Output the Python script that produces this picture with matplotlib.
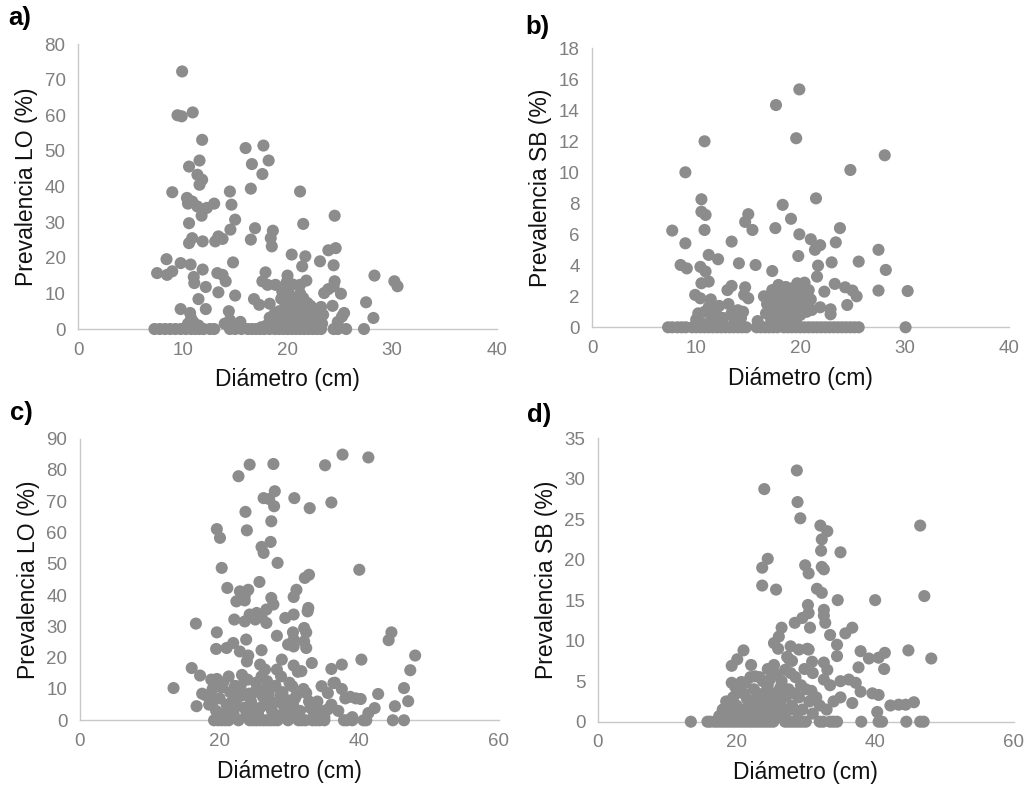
import matplotlib
matplotlib.use("Agg")
import matplotlib.pyplot as plt

plt.rcParams["font.family"] = ["Liberation Sans", "DejaVu Sans"]

# ---- panel a: Prevalencia LO vs diametro (serie 1) ----
a_x = [9.94, 9.5, 9.9, 10.95, 11.85, 16.0, 17.7, 18.2, 11.6, 10.6, 16.6, 17.6,
       11.4, 11.85, 11.6, 16.5, 9.0, 14.5, 21.2, 10.4, 10.9, 10.5, 11.4, 11.85,
       12.3, 11.8, 13.0, 14.65, 24.5, 21.5, 10.6, 15.0, 14.55, 16.9, 18.6, 18.4,
       18.5, 16.5, 10.6, 10.9, 11.9, 13.1, 13.4, 13.8, 24.6, 23.9, 20.4, 21.7,
       21.4, 24.4, 23.1, 8.45, 9.8, 10.75, 14.8, 7.55, 8.5, 9.0, 11.9, 11.05,
       11.1, 13.3, 13.8, 14.1, 12.2, 17.9, 20.0, 28.3, 17.6, 18.1, 18.85, 21.8,
       21.2, 24.5, 24.4, 30.2, 30.5, 20.0, 13.4, 25.1, 23.5, 23.9, 15.0, 11.5,
       16.8, 17.3, 18.3, 21.5, 27.5, 24.3, 9.8, 12.2, 14.4, 25.4, 28.2, 10.7,
       19.0, 19.5, 20.0, 20.3, 20.6, 21.0, 21.3, 21.8, 22.2, 22.6, 23.0, 23.3,
       19.8, 20.8, 21.5, 22.0, 18.5, 18.0, 17.5, 14.0, 14.5, 15.0, 15.5, 10.5,
       11.0, 11.5, 10.8, 24.8, 25.2, 20.1, 19.9, 20.5,
       19.2, 19.7, 20.2, 20.7, 21.1, 21.6, 22.1, 22.5, 22.9, 23.4, 18.8, 18.3,
       19.4, 20.9, 22.3, 23.2, 21.9, 19.5, 20.4, 21.2,
       7.3, 7.8, 8.3, 8.8, 9.3, 9.8, 10.3, 10.8, 11.2, 11.6, 12.0, 12.6, 13.0,
       14.5, 15.0, 15.6, 16.2, 16.6, 17.0, 17.4, 17.8, 18.3, 18.8, 19.2, 19.6,
       20.0, 20.4, 20.8, 21.2, 21.6, 22.0, 22.4, 22.8, 23.2, 24.4, 24.8, 25.6,
       27.3]
a_y = [72.3, 60.0, 59.7, 60.8, 53.1, 50.8, 51.5, 47.3, 47.3, 45.6, 46.3, 43.5,
       43.3, 41.9, 40.5, 39.4, 38.4, 38.6, 38.6, 36.8, 35.8, 35.2, 34.4, 33.5,
       34.0, 31.8, 35.2, 34.9, 31.8, 29.5, 29.7, 30.7, 27.9, 28.3, 27.6, 25.5,
       23.2, 25.1, 24.1, 25.5, 24.6, 24.6, 26.0, 25.3, 22.7, 22.1, 20.9, 20.4,
       17.6, 17.9, 19.0, 19.6, 18.5, 18.1, 18.7, 15.7, 15.2, 16.2, 16.7, 14.6,
       12.9, 15.7, 15.2, 13.4, 11.8, 15.9, 15.0, 15.0, 13.4, 12.4, 12.4, 13.6,
       12.4, 13.4, 12.0, 13.4, 12.0, 11.0, 10.3, 9.9, 10.1, 11.2, 9.4, 8.4,
       8.4, 6.8, 7.1, 8.7, 7.5, 6.5, 5.6, 5.6, 5.0, 4.5, 3.1, 4.5,
       3.0, 1.5, 4.0, 6.0, 2.0, 5.0, 1.0, 3.0, 6.5, 2.5, 4.5, 1.5,
       7.0, 8.0, 3.5, 0.8, 2.0, 1.0, 0.5, 1.5, 2.5, 1.0, 2.0, 1.5,
       2.0, 1.0, 3.0, 2.0, 3.5, 10.0, 13.0, 12.5,
       5.0, 2.5, 1.2, 4.2, 2.8, 5.5, 3.8, 1.2, 2.8, 4.0, 4.5, 3.2,
       8.5, 6.8, 5.2, 6.2, 7.3, 10.5, 9.0, 10.0,
       0, 0, 0, 0, 0, 0, 0, 0, 0, 0, 0, 0, 0,
       0, 0, 0, 0, 0, 0, 0, 0, 0, 0, 0, 0,
       0, 0, 0, 0, 0, 0, 0, 0, 0, 0, 0, 0,
       0]

# ---- panel b: Prevalencia SB vs diametro (serie 1) ----
b_x = [19.9, 17.66, 19.6, 10.8, 28.1, 24.8, 8.96, 10.5, 21.5, 18.3, 10.5, 10.9,
       15.0, 14.7, 19.1, 7.7, 10.8, 15.4, 17.6, 23.8, 19.9, 13.4, 8.96, 21.0,
       21.4, 21.9, 23.4, 27.5, 19.8, 11.2, 12.1, 25.6, 14.1, 15.7, 23.0, 21.7,
       21.6, 8.5, 9.1, 10.4, 10.9, 17.3, 28.2, 10.5, 11.2, 13.0, 13.4, 14.7,
       15.0, 14.6, 17.9, 17.3, 19.7, 20.4, 23.3, 22.3, 24.3, 25.0, 25.4, 27.5,
       30.3, 9.9, 10.4, 24.5, 22.9, 22.9, 13.1, 12.2, 21.1, 21.9,
       16.8, 17.0, 17.3, 17.6, 18.0, 18.2, 18.5, 18.8, 19.2, 19.5, 19.8, 20.2,
       20.6, 21.0, 16.7, 18.0, 19.0, 20.0,
       10.0, 10.4, 10.8, 11.2, 11.5, 12.0, 11.8, 10.9,
       13.7, 14.0, 14.3, 14.5, 14.2,
       16.5, 17.1, 17.5, 17.9, 18.3, 18.7, 19.0, 19.4, 19.9, 20.3, 20.8, 17.2,
       18.6, 19.6, 15.9, 11.4, 11.9, 10.2, 12.6, 13.4,
       7.3, 7.7, 8.2, 8.6, 9.0, 9.6, 10.0, 10.4, 10.8, 11.2, 11.6, 12.0, 12.4,
       12.8, 13.2, 13.6, 14.0, 14.4, 14.8, 15.8, 16.2, 16.6, 17.0, 17.4, 17.8,
       18.4, 18.8, 19.2, 19.6, 20.0, 20.4, 20.8, 21.2, 21.6, 22.0, 22.4, 22.8,
       23.2, 23.6, 24.0, 24.4, 24.8, 25.2, 25.6, 30.1]
b_y = [15.35, 14.34, 12.2, 12.0, 11.1, 10.15, 10.0, 8.26, 8.32, 7.9, 7.46, 7.25,
       7.3, 6.8, 7.0, 6.24, 6.28, 6.28, 6.4, 6.4, 6.0, 5.53, 5.42, 5.68,
       5.0, 5.3, 5.48, 5.0, 4.6, 4.67, 4.39, 4.24, 4.13, 4.02, 4.19, 3.98,
       3.27, 4.02, 3.8, 3.9, 3.6, 3.63, 3.7, 2.84, 2.95, 2.4, 2.67, 2.58,
       1.87, 2.09, 2.73, 2.4, 2.84, 2.88, 2.8, 2.3, 2.58, 2.37, 2.0, 2.37,
       2.34, 2.09, 1.87, 1.44, 1.16, 0.84, 1.5, 1.38, 1.12, 1.29,
       1.5, 2.0, 1.0, 1.8, 0.5, 2.2, 1.2, 1.9, 0.8, 2.3, 1.4, 2.0,
       1.0, 1.8, 0.9, 1.5, 2.5, 0.8,
       0.5, 0.3, 1.0, 1.3, 0.7, 0.4, 1.1, 0.2,
       0.4, 1.1, 0.6, 1.0, 0.2,
       2.0, 1.2, 2.3, 1.1, 1.7, 0.6, 1.4, 1.9, 2.4, 1.4, 2.4, 0.5,
       2.6, 0.5, 0.4, 1.8, 0.9, 0.9, 0.6, 0.9,
       0, 0, 0, 0, 0, 0, 0, 0, 0, 0, 0, 0, 0,
       0, 0, 0, 0, 0, 0, 0, 0, 0, 0, 0, 0,
       0, 0, 0, 0, 0, 0, 0, 0, 0, 0, 0, 0,
       0, 0, 0, 0, 0, 0, 0, 0]

# ---- panel c: Prevalencia LO vs diametro (serie 2) ----
c_x = [37.6, 41.3, 24.3, 27.7, 35.1, 22.7, 27.9, 26.3, 27.1, 30.7, 36.0, 27.8,
       32.9, 23.7, 27.4, 23.9, 19.6, 20.05, 27.3, 26.0, 26.3, 28.3, 20.3, 40.0,
       32.2, 32.8, 25.7, 21.1, 24.1, 22.9, 23.6, 22.4, 23.6, 31.0, 30.6, 27.4,
       27.7, 32.7, 32.6, 24.3, 25.3, 26.0, 26.7, 25.1, 23.6, 26.7, 22.1, 29.4,
       30.6, 16.6, 19.6, 32.1, 32.4, 30.5, 30.6, 29.8, 30.6, 28.2, 44.6, 44.2,
       23.8, 21.95, 21.0, 22.9, 19.5, 32.1, 32.4, 26.0, 24.1, 23.9, 40.3, 48.0,
       28.9, 28.2, 30.6, 33.2, 37.5, 36.0, 16.0, 25.8, 26.5, 31.7, 47.3, 17.2,
       19.6, 13.4, 46.4, 42.7, 38.7, 40.2, 47.0, 32.4, 45.1, 42.2, 41.3, 16.7,
       34.6, 35.5, 36.3, 26.7, 30.4,
       18.0, 18.5, 19.0, 19.5, 20.0, 20.5, 21.0, 21.5, 22.0, 22.5, 23.0, 23.5,
       24.0, 24.5, 25.0, 25.5, 26.0, 26.5, 27.0, 27.5, 28.0, 28.5, 29.0, 29.5,
       30.0, 30.5, 31.0, 31.5, 32.0, 33.0, 33.5, 34.0, 34.5, 35.0, 36.0, 37.0,
       38.0, 39.0, 19.2, 20.8, 22.3, 23.8, 24.8, 26.2, 27.7, 29.2, 30.2, 21.3,
       23.2, 25.2, 28.8, 31.2, 17.5, 18.8, 20.3, 22.8, 24.2, 26.8, 28.3, 30.8,
       32.8, 35.5, 37.5, 36.5, 39.5,
       21.8, 23.3, 25.8, 27.2, 28.7, 30.6, 22.2, 24.6, 26.3, 29.6,
       19.2, 19.8, 20.3, 20.8, 21.3, 22.7, 24.3, 24.8, 25.3, 25.8, 26.3, 26.8,
       27.3, 27.8, 28.3, 29.8, 31.3, 31.8, 32.3, 33.3, 33.8, 34.3, 35.0, 37.8,
       38.2, 39.0, 40.6, 41.0, 44.8, 46.4]
c_y = [84.9, 84.0, 81.7, 81.9, 81.5, 78.0, 73.2, 71.0, 70.7, 71.0, 69.6, 68.4,
       67.8, 66.6, 63.6, 60.7, 61.1, 58.3, 57.0, 55.4, 53.5, 50.3, 48.7, 48.1,
       45.5, 46.5, 44.2, 42.3, 41.7, 41.2, 39.8, 38.0, 38.3, 41.7, 39.4, 39.1,
       37.0, 35.9, 34.8, 33.8, 34.3, 33.0, 35.4, 32.2, 31.6, 31.1, 32.2, 32.7,
       33.8, 30.9, 28.1, 29.5, 28.1, 28.1, 25.8, 24.2, 23.6, 27.0, 28.1, 25.6,
       25.8, 24.7, 23.1, 22.0, 22.8, 25.2, 23.1, 22.4, 20.7, 18.8, 19.4, 20.7,
       19.4, 16.2, 17.5, 18.3, 17.8, 16.4, 16.7, 17.8, 16.2, 15.7, 16.0, 14.3,
       13.2, 10.3, 10.3, 8.4, 7.5, 6.8, 6.1, 8.7, 4.5, 3.9, 2.3, 4.5,
       10.9, 8.7, 11.9, 10.3, 10.9,
       8.0, 5.0, 10.0, 3.0, 7.0, 12.0, 5.0, 9.0, 2.0, 7.0, 11.0, 4.0,
       13.0, 6.0, 9.0, 2.0, 14.0, 5.0, 8.0, 3.0, 11.0, 6.0, 9.0, 2.0,
       12.0, 5.0, 8.0, 3.0, 10.0, 4.0, 2.0, 6.0, 3.0, 1.0, 5.0, 3.0,
       7.0, 1.0, 6.5, 2.5, 4.5, 1.5, 3.5, 7.5, 5.5, 4.5, 2.5, 14.0,
       14.5, 12.0, 14.0, 15.5, 8.5, 13.0, 10.5, 9.5, 8.5, 12.5, 1.5, 7.0,
       6.0, 3.5, 10.0, 12.0, 7.0,
       6.0, 8.0, 4.0, 10.0, 8.0, 1.0, 11.0, 1.0, 9.5, 6.5,
       0, 0, 0, 0, 0, 0, 0, 0, 0, 0, 0, 0,
       0, 0, 0, 0, 0, 0, 0, 0, 0, 0, 0, 0,
       0, 0, 0, 0, 0, 0]

# ---- panel d: Prevalencia SB vs diametro (serie 2) ----
d_x = [28.7, 24.0, 28.8, 29.2, 32.1, 46.5, 33.1, 32.3, 32.2, 35.0, 24.5, 23.7,
       29.9, 30.4, 32.3, 32.6, 23.7, 25.7, 31.6, 32.3, 34.6, 40.0, 47.1, 30.3,
       32.6, 32.6, 32.8, 30.4, 28.4, 29.5, 26.5, 26.1, 30.6, 36.7, 35.7, 33.5,
       25.4, 34.5, 48.1, 44.8, 41.4, 40.5, 37.9, 39.1, 37.6, 41.3, 34.5, 27.8,
       29.0, 30.4, 21.0, 20.1, 19.3, 22.1, 25.4, 27.6, 27.0, 30.9, 32.6, 33.1,
       22.7, 19.3, 20.7, 32.6, 35.0, 36.2, 37.2, 37.9, 39.6, 40.5, 36.7, 35.0,
       42.2, 43.4, 44.4, 45.6, 40.3,
       18.0, 18.5, 19.0, 19.5, 20.0, 20.5, 21.0, 21.5, 22.0, 22.5, 23.0, 23.5,
       24.0, 24.5, 25.0, 25.5, 26.0, 26.5, 27.0, 27.5, 28.0, 28.5, 29.0, 29.5,
       30.0, 30.5, 31.0, 31.5, 32.0, 33.0, 34.0, 18.8, 20.3, 21.8, 23.3, 24.8,
       26.2, 27.8, 29.8, 22.8, 24.3, 21.3, 26.8, 28.3, 19.8, 25.8, 17.5, 23.8,
       27.3, 28.0, 26.0, 22.0, 31.0, 33.5, 30.2, 24.5,
       19.0, 20.0, 20.8, 21.5, 22.3, 23.0, 23.8, 24.2, 25.2, 26.5, 27.2, 28.8,
       29.3, 30.8, 22.5, 25.7, 27.7, 20.6, 24.8, 26.3,
       13.4, 15.8, 16.2, 16.8, 17.3, 17.8, 18.3, 18.8, 19.3, 19.8, 20.3, 20.8,
       21.3, 21.8, 22.3, 22.8, 23.3, 23.8, 24.3, 24.8, 25.3, 27.0, 27.5, 28.0,
       28.5, 29.0, 29.5, 30.0, 32.0, 32.5, 33.5, 34.0, 34.5, 38.0, 40.5, 41.0,
       44.5, 46.5, 47.0]
d_y = [31.0, 28.7, 27.1, 25.1, 24.2, 24.2, 23.5, 22.5, 21.1, 20.9, 20.1, 19.0,
       19.3, 18.3, 19.1, 18.8, 16.8, 16.3, 16.4, 15.9, 15.0, 15.0, 15.5, 14.4,
       13.8, 13.1, 12.2, 13.4, 12.2, 12.8, 11.6, 10.5, 11.6, 11.6, 10.9, 10.7,
       9.7, 9.5, 7.8, 8.8, 8.5, 7.9, 8.7, 7.8, 6.7, 6.5, 8.1, 9.3,
       8.9, 8.9, 8.8, 7.7, 6.9, 7.0, 7.0, 7.7, 6.4, 7.4, 7.3, 6.4,
       5.6, 4.8, 4.9, 5.2, 5.0, 5.2, 4.8, 3.7, 3.5, 3.3, 2.3, 3.0,
       2.0, 2.1, 2.1, 2.4, 1.2,
       1.5, 2.5, 1.0, 3.0, 2.0, 0.5, 3.5, 1.5, 2.5, 4.0, 1.0, 3.0,
       2.0, 4.5, 1.5, 3.5, 2.5, 5.0, 1.0, 4.0, 2.0, 5.5, 3.0, 1.5,
       4.0, 2.5, 1.0, 3.0, 2.0, 1.5, 2.5, 0.8, 1.2, 0.6, 5.5, 0.8,
       0.7, 6.0, 6.5, 2.0, 3.8, 4.8, 3.0, 3.5, 4.3, 5.8, 0.7, 5.0,
       8.0, 7.5, 9.0, 5.5, 6.0, 4.5, 9.0, 6.5,
       2.0, 3.5, 1.5, 2.8, 1.2, 3.5, 1.2, 2.8, 2.2, 1.8, 3.2, 1.2,
       4.5, 3.8, 0.6, 0.9, 1.5, 4.6, 5.2, 4.2,
       0, 0, 0, 0, 0, 0, 0, 0, 0, 0, 0, 0,
       0, 0, 0, 0, 0, 0, 0, 0, 0, 0, 0, 0,
       0, 0, 0, 0, 0, 0, 0, 0, 0, 0, 0, 0,
       0, 0, 0]

panels = [
    ("a)", a_x, a_y, "Prevalencia LO (%)", 40, 10, 80, 10),
    ("b)", b_x, b_y, "Prevalencia SB (%)", 40, 10, 18, 2),
    ("c)", c_x, c_y, "Prevalencia LO (%)", 60, 20, 90, 10),
    ("d)", d_x, d_y, "Prevalencia SB (%)", 60, 20, 35, 5),
]

# axes rectangles [left, bottom, width, height] in figure fraction
rects = [
    [0.0761, 0.5814, 0.4088, 0.3626],
    [0.5776, 0.5836, 0.4065, 0.3549],
    [0.0780, 0.0836, 0.4088, 0.3583],
    [0.5834, 0.0818, 0.4056, 0.3609],
]
letter_pos = [(0.008, 0.992), (0.513, 0.981), (0.010, 0.490), (0.514, 0.487)]

fig = plt.figure(figsize=(10.25, 7.86), dpi=100)

for (letter, xs, ys, ylabel, xmax, xstep, ymax, ystep), rect, lp in zip(panels, rects, letter_pos):
    ax = fig.add_axes(rect)
    ax.scatter(xs, ys, s=76, color="#8c8c8c", edgecolors="none", clip_on=False, zorder=3)
    ax.set_xlim(0, xmax)
    ax.set_ylim(0, ymax)
    ax.set_xticks(range(0, xmax + 1, xstep))
    ax.set_yticks(range(0, ymax + 1, ystep))
    for side in ["top", "right"]:
        ax.spines[side].set_visible(False)
    for side in ["left", "bottom"]:
        ax.spines[side].set_color("#c8c8c8")
        ax.spines[side].set_linewidth(1.0)
    ax.tick_params(length=0, labelsize=13.5, labelcolor="#7f7f7f", pad=9)
    ax.set_xlabel("Diámetro (cm)", fontsize=16.5, labelpad=7, color="#111111")
    ax.set_ylabel(ylabel, fontsize=16.5, labelpad=5, color="#111111")
    fig.text(lp[0], lp[1], letter, fontsize=18.5, fontweight="bold", va="top", ha="left")

fig.savefig("out.png", dpi=100)
